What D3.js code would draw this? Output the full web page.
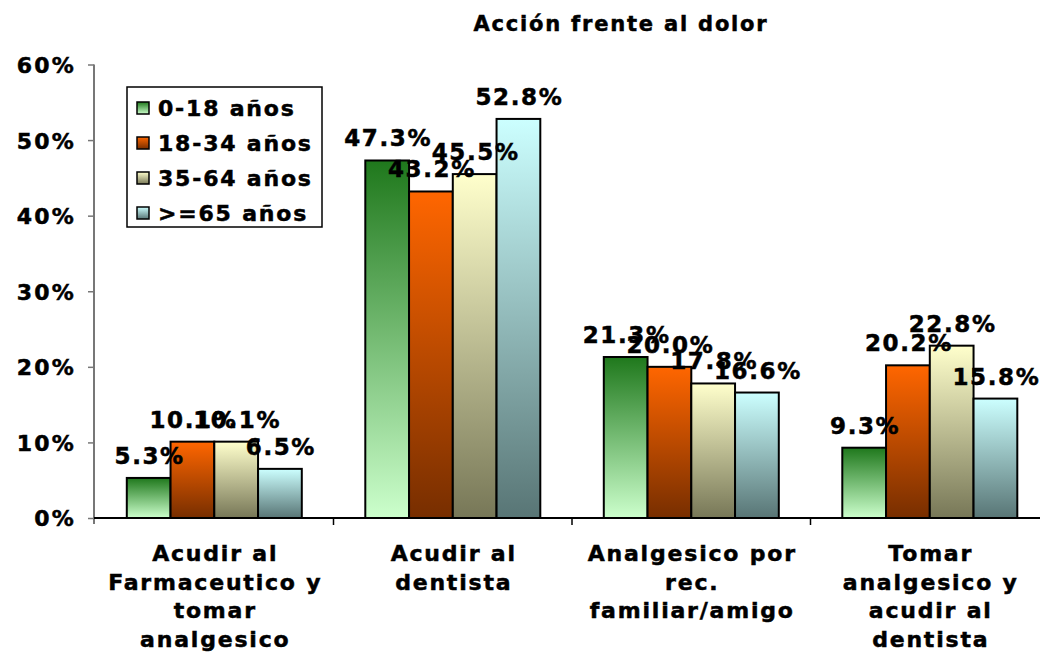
<!DOCTYPE html>
<html>
<head>
<meta charset="utf-8">
<script src="https://cdn.jsdelivr.net/npm/d3@7"></script>
<style>
  html, body { margin: 0; padding: 0; background: #fff; }
  svg { display: block; }
  text { font-family: "DejaVu Sans", Verdana, sans-serif; font-weight: bold; fill: #000; stroke: #000; stroke-width: 0.5px; }
</style>
</head>
<body>
<svg id="chart" width="1040" height="657"></svg>
<script>
// ---- data ----
const categories = ["Acudir al Farmaceutico y tomar analgesico", "Acudir al dentista", "Analgesico por rec. familiar/amigo", "Tomar analgesico y acudir al dentista"];
const categoryLines = [
  ["Acudir al", "Farmaceutico y", "tomar", "analgesico"],
  ["Acudir al", "dentista"],
  ["Analgesico por", "rec.", "familiar/amigo"],
  ["Tomar", "analgesico y", "acudir al", "dentista"]
];
const seriesNames = ["0-18 años", "18-34 años", "35-64 años", ">=65 años"];
const s0_18 = [0.053, 0.473, 0.213, 0.093];
const s18_34 = [0.101, 0.432, 0.200, 0.202];
const s35_64 = [0.101, 0.455, 0.178, 0.228];
const s65 = [0.065, 0.528, 0.166, 0.158];
const seriesValues = [s0_18, s18_34, s35_64, s65];
const yTicks = [0, 0.1, 0.2, 0.3, 0.4, 0.5, 0.6];
const title = "Acción frente al dolor";

// ---- styles ----
const gradStops = [
  ["#1f781c", "#ccffcc"],
  ["#ff6600", "#772e00"],
  ["#ffffcc", "#777757"],
  ["#ccffff", "#587575"]
];

const svg = d3.select("#chart");
const defs = svg.append("defs");
gradStops.forEach((g, i) => {
  const lg = defs.append("linearGradient").attr("id", "g" + i)
    .attr("x1", 0).attr("y1", 0).attr("x2", 0).attr("y2", 1);
  lg.append("stop").attr("offset", "0%").attr("stop-color", g[0]);
  lg.append("stop").attr("offset", "100%").attr("stop-color", g[1]);
});

const y = d3.scaleLinear().domain([0, 0.6]).range([518, 64.5]);
const x0 = d3.scaleBand().domain(categories).range([95, 1049]).paddingInner(0).paddingOuter(0);
const x1 = d3.scaleBand().domain(seriesNames).range([31.8, 206.8]).paddingInner(0);

// title
svg.append("text").attr("x", 621).attr("y", 31).attr("text-anchor", "middle")
  .style("font-size", "21px").style("letter-spacing", "1.8px").text(title);

// bars
const groups = svg.append("g").selectAll("g").data(categories).join("g")
  .attr("transform", d => `translate(${x0(d)},0)`);

seriesNames.forEach((s, si) => {
  groups.append("rect")
    .attr("x", x1(s))
    .attr("y", (d, ci) => y(seriesValues[si][ci]))
    .attr("width", x1.bandwidth())
    .attr("height", (d, ci) => y(0) - y(seriesValues[si][ci]))
    .attr("fill", `url(#g${si})`)
    .attr("stroke", "#000").attr("stroke-width", 2);
});

// y axis
const yAxis = svg.append("g").attr("transform", "translate(94,0)")
  .call(d3.axisLeft(y).tickValues(yTicks).tickFormat(d3.format(".0%")).tickSize(6).tickPadding(12));
yAxis.select(".domain").attr("stroke", "#777").attr("stroke-width", 2).attr("d", `M0,${y(0.6)}V${y(0)+6}`);
yAxis.selectAll(".tick line").attr("stroke", "#777").attr("stroke-width", 1.5);
yAxis.selectAll(".tick text").style("font-size", "22px").style("letter-spacing", "2.2px")
  .attr("font-family", null).attr("fill", "#000").attr("dy", "0.36em");

// x axis line + boundary ticks
svg.append("line").attr("x1", 94).attr("x2", 1049).attr("y1", y(0)).attr("y2", y(0))
  .attr("stroke", "#000").attr("stroke-width", 2);
svg.append("g").selectAll("line").data(categories.slice(1)).join("line")
  .attr("x1", d => x0(d)).attr("x2", d => x0(d))
  .attr("y1", y(0)).attr("y2", y(0) + 7).attr("stroke", "#000").attr("stroke-width", 1.5);

// x labels
categories.forEach((c, ci) => {
  const t = svg.append("text").attr("text-anchor", "middle")
    .style("font-size", "22px").style("letter-spacing", "1.8px");
  categoryLines[ci].forEach((ln, li) => {
    t.append("tspan").attr("x", x0(c) + x0.bandwidth() / 2 + 1).attr("y", 561 + li * 28.5).text(ln);
  });
});

// data labels
const fmt = d3.format(".1%");
seriesNames.forEach((s, si) => {
  groups.append("text").attr("text-anchor", "middle")
    .attr("x", x1(s) + x1.bandwidth() / 2 + 1)
    .attr("y", (d, ci) => y(seriesValues[si][ci]) - 14)
    .style("font-size", "23px").style("letter-spacing", "1.6px")
    .text((d, ci) => fmt(seriesValues[si][ci]));
});

// legend
const lg = svg.append("g").attr("transform", "translate(127,87)");
lg.append("rect").attr("width", 195).attr("height", 140).attr("fill", "#fff").attr("stroke", "#000").attr("stroke-width", 1.5);
seriesNames.forEach((s, i) => {
  const row = lg.append("g").attr("transform", `translate(0,${21 + i * 35})`);
  row.append("rect").attr("x", 10).attr("y", -6).attr("width", 12).attr("height", 12)
    .attr("fill", `url(#g${i})`).attr("stroke", "#000").attr("stroke-width", 1.5);
  row.append("text").attr("x", 31).attr("y", 0).attr("dy", "0.36em")
    .style("font-size", "22px").style("letter-spacing", "1.8px").text(s);
});
</script>
</body>
</html>
